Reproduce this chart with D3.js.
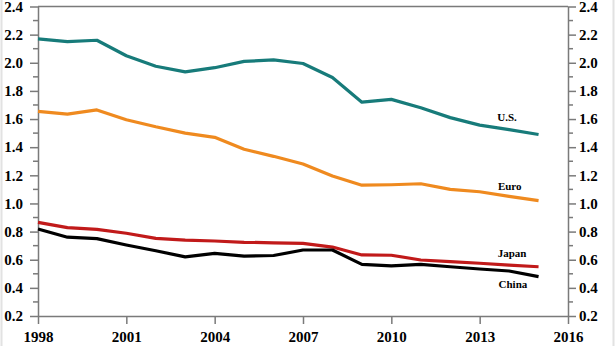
<!DOCTYPE html>
<html>
<head>
<meta charset="utf-8">
<script src="https://cdn.jsdelivr.net/npm/d3@7"></script>
<style>
  body { margin: 0; background: #fff; }
  svg { display: block; }
</style>
</head>
<body>
<svg></svg>
<script>
// Yearly values per economy, 1998-2015
const years = d3.range(1998, 2016);
const usValues = [2.17, 2.15, 2.16, 2.05, 1.975, 1.935, 1.965, 2.01, 2.02, 1.995, 1.895, 1.72, 1.74, 1.68, 1.61, 1.557, 1.525, 1.49];
const euroValues = [1.655, 1.635, 1.665, 1.595, 1.545, 1.50, 1.47, 1.385, 1.335, 1.28, 1.195, 1.13, 1.133, 1.14, 1.10, 1.083, 1.05, 1.02];
const japanValues = [0.866, 0.828, 0.816, 0.788, 0.752, 0.74, 0.733, 0.724, 0.72, 0.716, 0.69, 0.634, 0.632, 0.598, 0.586, 0.575, 0.562, 0.55];
const chinaValues = [0.818, 0.76, 0.75, 0.705, 0.664, 0.62, 0.645, 0.626, 0.63, 0.669, 0.669, 0.567, 0.557, 0.567, 0.55, 0.534, 0.52, 0.48];

const seriesNames = ['U.S.', 'Euro', 'Japan', 'China'];
const seriesColors = ['#177b7a', '#ef8a1f', '#c11a1a', '#000000'];
const yTicks = [0.2, 0.4, 0.6, 0.8, 1.0, 1.2, 1.4, 1.6, 1.8, 2.0, 2.2, 2.4];
const xTicks = [1998, 2001, 2004, 2007, 2010, 2013, 2016];

const width = 616, height = 346;
const margin = { top: 6.5, right: 48, bottom: 30, left: 38 };

const svg = d3.select('svg').attr('width', width).attr('height', height);

const x = d3.scaleLinear().domain([1998, 2016]).range([margin.left, width - margin.right]);
const y = d3.scaleLinear().domain([0.2, 2.4]).range([height - margin.bottom, margin.top]);

const axisColor = '#7a7a7a';
const font = '"Liberation Serif", "Times New Roman", serif';

// faint frame edges
svg.append('line').attr('x1', 1.5).attr('x2', 1.5).attr('y1', 0).attr('y2', height)
    .attr('stroke', '#e2e2e2').attr('stroke-width', 2);
svg.append('line').attr('x1', 613.5).attr('x2', 613.5).attr('y1', 0).attr('y2', height)
    .attr('stroke', '#e2e2e2').attr('stroke-width', 2);

// Y axes, left and right, with minor ticks every 0.1
const minorTicks = d3.range(0.3, 2.4, 0.2);

function styleAxis(g) {
    g.select('.domain').attr('stroke', axisColor).attr('stroke-width', 1.5);
    g.selectAll('.tick line').attr('stroke', axisColor).attr('stroke-width', 1.5);
    g.selectAll('.tick text')
        .attr('fill', '#000')
        .style('font-family', font)
        .style('font-weight', 'bold')
        .style('font-size', '15px');
}

const leftAxis = svg.append('g')
    .attr('transform', `translate(${margin.left},0)`)
    .call(d3.axisLeft(y).tickValues(yTicks).tickFormat(d3.format('.1f')).tickSize(8).tickSizeOuter(0).tickPadding(7))
    .call(styleAxis);

const rightAxis = svg.append('g')
    .attr('transform', `translate(${width - margin.right},0)`)
    .call(d3.axisRight(y).tickValues(yTicks).tickFormat(d3.format('.1f')).tickSize(8).tickSizeOuter(0).tickPadding(3))
    .call(styleAxis);

leftAxis.selectAll('.minor')
    .data(minorTicks)
    .enter().append('line')
    .attr('x1', -5).attr('x2', 0)
    .attr('y1', d => y(d)).attr('y2', d => y(d))
    .attr('stroke', axisColor).attr('stroke-width', 1.5);

rightAxis.selectAll('.minor')
    .data(minorTicks)
    .enter().append('line')
    .attr('x1', 0).attr('x2', 5)
    .attr('y1', d => y(d)).attr('y2', d => y(d))
    .attr('stroke', axisColor).attr('stroke-width', 1.5);

// bottom axis and top border
svg.append('g')
    .attr('transform', `translate(0,${height - margin.bottom})`)
    .call(d3.axisBottom(x).tickValues(xTicks).tickFormat(d3.format('d')).tickSize(8).tickSizeOuter(0).tickPadding(7))
    .call(styleAxis);

svg.append('line')
    .attr('x1', x(1998)).attr('x2', x(2016))
    .attr('y1', y(2.4)).attr('y2', y(2.4))
    .attr('stroke', axisColor).attr('stroke-width', 1.5);

// series lines
const allValues = [usValues, euroValues, japanValues, chinaValues];
const line = d3.line()
    .x((d, i) => x(years[i]))
    .y(d => y(d));

svg.append('g')
    .selectAll('path')
    .data(allValues)
    .enter().append('path')
    .attr('d', line)
    .attr('fill', 'none')
    .attr('stroke', (d, i) => seriesColors[i])
    .attr('stroke-width', 3.2)
    .attr('stroke-linejoin', 'round');

// series labels near the line ends
const labelPos = [
    { name: 'U.S.', year: 2013.93, value: 1.586 },
    { name: 'Euro', year: 2014.02, value: 1.095 },
    { name: 'Japan', year: 2014.1, value: 0.619 },
    { name: 'China', year: 2014.13, value: 0.399 }
];

svg.append('g')
    .selectAll('text')
    .data(labelPos)
    .enter().append('text')
    .attr('x', d => x(d.year))
    .attr('y', d => y(d.value))
    .attr('text-anchor', 'middle')
    .style('font-family', font)
    .style('font-weight', 'bold')
    .style('font-size', '11px')
    .text(d => d.name);
</script>
</body>
</html>
